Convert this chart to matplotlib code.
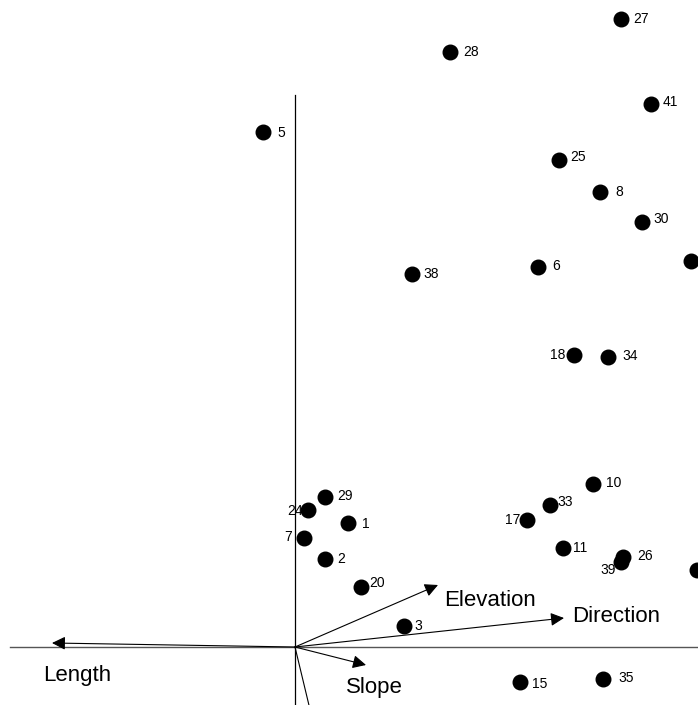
import matplotlib.pyplot as plt

plt.rcParams['font.family'] = ['Liberation Sans', 'DejaVu Sans']

# site scores (biplot units)
labels = ['27', '28', '41', '5', '25', '8', '30', '', '38', '6', '18', '34',
          '10', '29', '33', '24', '17', '1', '7', '11', '26', '39', '2', '',
          '20', '3', '15', '35']
xs = [3.26, 1.55, 3.56, -0.32, 2.64, 3.05, 3.47, 3.96, 1.17, 2.43, 2.79, 3.13,
      2.98, 0.30, 2.55, 0.13, 2.32, 0.53, 0.09, 2.68, 3.28, 3.26, 0.30, 4.02,
      0.66, 1.09, 2.25, 3.08]
ys = [6.28, 5.95, 5.43, 5.15, 4.87, 4.55, 4.25, 3.86, 3.73, 3.80, 2.92, 2.90,
      1.63, 1.50, 1.42, 1.37, 1.27, 1.24, 1.09, 0.99, 0.90, 0.85, 0.88, 0.77,
      0.60, 0.21, -0.35, -0.32]

# variable vectors
var_names = ['Length', 'Elevation', 'Direction', 'Slope', '']
var_x = [-2.43, 1.43, 2.69, 0.71, 0.18]
var_y = [0.04, 0.62, 0.29, -0.18, -0.75]

# label placement (offset in pixels, alignment)
lab_off = {'27': (12, 0, 'left'), '28': (13, 0, 'left'), '41': (12, 2, 'left'),
           '5': (14, -1, 'left'), '25': (11, 3, 'left'), '8': (15, 0, 'left'),
           '30': (11, 3, 'left'), '38': (11, 0, 'left'), '6': (14, 1, 'left'),
           '18': (-9, 0, 'right'), '34': (14, 1, 'left'), '10': (13, 1, 'left'),
           '29': (12, 1, 'left'), '33': (7, 3, 'left'), '24': (-5, -1, 'right'),
           '17': (-7, 0, 'right'), '1': (14, -1, 'left'), '7': (-12, 1, 'right'),
           '11': (10, 0, 'left'), '26': (14, 1, 'left'), '39': (-5, -8, 'right'),
           '2': (12, 0, 'left'), '20': (8, 4, 'left'), '3': (10, 0, 'left'),
           '15': (12, -2, 'left'), '35': (15, 1, 'left')}
var_lab = {'Length': (-2.52, -0.28), 'Elevation': (1.49, 0.47),
           'Direction': (2.77, 0.30), 'Slope': (0.51, -0.41)}

fig = plt.figure(figsize=(6.98, 7.05), dpi=100)
ax = fig.add_axes([0, 0, 1, 1])
ax.set_xlim(-2.95, 4.03)
ax.set_ylim(-0.58, 6.47)
ax.axis('off')

# axes through origin
ax.plot([-2.85, 4.03], [0, 0], color='#555555', lw=1)
ax.plot([0, 0], [-0.58, 5.52], color='black', lw=0.9)

ax.scatter(xs, ys, s=110, color='black', zorder=3, clip_on=False)
for x, y, t in zip(xs, ys, labels):
    if t == '':
        continue
    dx, dy, ha = lab_off[t]
    ax.annotate(t, (x, y), xytext=(dx, dy), textcoords='offset pixels',
                ha=ha, va='center', fontsize=10)

for vx, vy, name in zip(var_x, var_y, var_names):
    if name == '':
        ax.plot([0, vx], [0, vy], color='black', lw=0.8)
        continue
    ax.annotate('', xy=(vx, vy), xytext=(0, 0),
                arrowprops=dict(arrowstyle='-|>', mutation_scale=20,
                                color='black', lw=0.8, shrinkA=0, shrinkB=0))
    lx, ly = var_lab[name]
    ax.text(lx, ly, name, ha='left', va='center', fontsize=16)

fig.savefig('out.png', dpi=100)
